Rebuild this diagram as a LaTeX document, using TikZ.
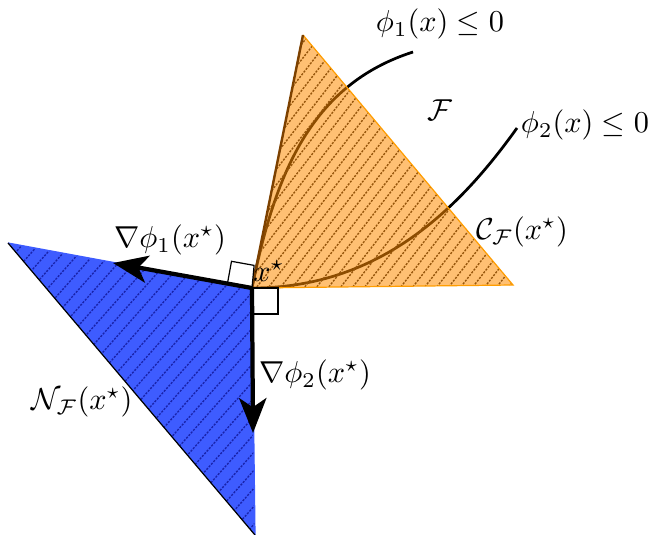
\documentclass[tikz,border=0pt]{standalone}
\usepackage{tikz}
\usetikzlibrary{arrows.meta,positioning}
\definecolor{cone_orange}{RGB}{255,140,0}
\definecolor{cone_edge}{RGB}{125,65,0}
\definecolor{cone_hatch}{RGB}{150,85,10}
\definecolor{normal_blue}{RGB}{62,92,255}
\definecolor{normal_hatch}{RGB}{25,35,170}
\tikzset{
cone_fill/.style={fill=cone_orange, fill opacity=0.55},
normal_fill/.style={fill=normal_blue},
hatch_line/.style={dash pattern=on 0.7pt off 0.45pt, line width=0.45pt},
grad_arrow/.style={line width=1.4pt, -{Stealth[length=11.5pt,width=9pt,inset=3pt]}},
right_angle/.style={draw, fill=white, line width=0.4pt},
constraint/.style={line width=0.9pt},
label_text/.style={inner sep=1pt}
}

\begin{document}
\begin{tikzpicture}[x=0.33pt,y=-0.33pt]
    \useasboundingbox (0,0) rectangle (650,535);
    \coordinate (xs) at (252,288);
    \coordinate (apex) at (303,35);
    \coordinate (cone_right) at (513,285);
    \coordinate (normal_left) at (8,243);
    \coordinate (normal_bottom) at (255,535);
    \coordinate (g1) at (113,263);
    \coordinate (g2) at (253,433);
    \coordinate (c1_end) at (413,52);
    \coordinate (c2_end) at (517,128);

    % normal cone
    \fill[normal_fill] (normal_left) -- (xs) -- (normal_bottom) -- cycle;
    \begin{scope}
        \clip (normal_left) -- (xs) -- (normal_bottom) -- cycle;
        \foreach \k in {-40,...,40}
            \draw[hatch_line, normal_hatch] (\k*16,540) -- ++(480,-540);
    \end{scope}
    \draw[normal_blue, line width=0.4pt] (normal_left) -- (xs) -- (normal_bottom);
    \draw[line width=0.4pt] (normal_left) -- (normal_bottom);

    % constraint curves
    \draw[constraint] (xs) .. controls (275,175) and (310,85) .. (c1_end);
    \draw[constraint] (xs) .. controls (375,288) and (455,215) .. (c2_end);

    % tangent cone
    \fill[cone_fill] (apex) -- (xs) -- (cone_right) -- cycle;
    \begin{scope}
        \clip (apex) -- (xs) -- (cone_right) -- cycle;
        \foreach \k in {-50,...,60}
            \draw[hatch_line, cone_hatch] (\k*12,540) -- ++(420,-540);
    \end{scope}
    \draw[cone_orange!85!yellow, line width=0.4pt] (apex) -- (cone_right) -- (xs);
    \draw[cone_edge, line width=0.8pt] (xs) -- (apex);

    % right angles
    \draw[right_angle] (xs) -- (227.4,283.9) -- (231.5,261.3) -- (254.1,265.4) -- cycle;
    \draw[right_angle] (xs) -- (252,314) -- (278,314) -- (278,288) -- cycle;

    % gradients
    \draw[grad_arrow] (xs) -- (g1);
    \draw[grad_arrow] (xs) -- (g2);

    \node[label_text] (phi1_label) at (440,24) {$\phi_1(x)\leq 0$};
    \node[label_text] (phi2_label) at (585,125) {$\phi_2(x)\leq 0$};
    \node[label_text] (feas_label) at (440,110) {$\mathcal{F}$};
    \node[label_text] (tcone_label) at (522,232) {$\mathcal{C}_{\mathcal{F}}(x^\star)$};
    \node[label_text] (x_star) at (269,271) {$x^\star$};
    \node[label_text] (grad1_label) at (170,240) {$\nabla\phi_1(x^\star)$};
    \node[label_text] (grad2_label) at (315,375) {$\nabla\phi_2(x^\star)$};
    \node[label_text] (ncone_label) at (82,402) {$\mathcal{N}_{\mathcal{F}}(x^\star)$};
\end{tikzpicture}
\end{document}
